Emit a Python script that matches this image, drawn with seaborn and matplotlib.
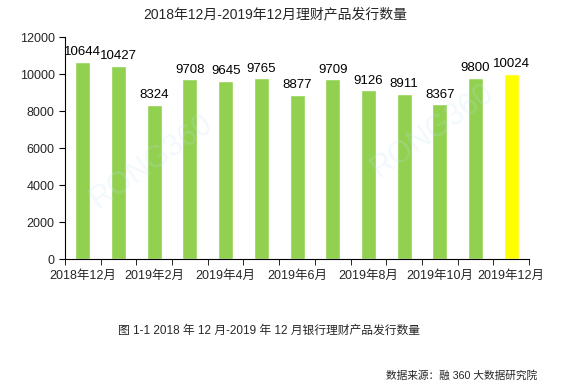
import matplotlib
matplotlib.use("Agg")
import matplotlib.pyplot as plt
import seaborn as sns
import pandas as pd
import numpy as np

months = ["2018年12月", "2019年1月", "2019年2月", "2019年3月", "2019年4月",
          "2019年5月", "2019年6月", "2019年7月", "2019年8月", "2019年9月",
          "2019年10月", "2019年11月", "2019年12月"]
counts = [10644, 10427, 8324, 9708, 9645, 9765, 8877, 9709, 9126, 8911, 8367, 9800, 10024]
bar_colors = ["#92D050"] * 12 + ["#FFFF00"]

sns.set_style("ticks")
plt.rcParams["font.family"] = ["Liberation Sans", "Noto Sans CJK SC", "DejaVu Sans"]

df = pd.DataFrame({"month": months, "count": counts})

fig = plt.figure(figsize=(5.61, 3.84), dpi=100)
ax = fig.add_axes([0.1159, 0.3255, 0.8271, 0.578])

sns.barplot(data=df, x="month", y="count", hue="month", palette=bar_colors,
            width=0.42, legend=False, ax=ax, saturation=1)

for i, v in enumerate(counts):
    ax.text(i, v + 200, str(v), ha="center", va="bottom", fontsize=9.5, color="black")

ax.set_ylim(0, 12000)
ax.set_xlim(-0.5, len(months) - 0.5)
ax.set_yticks(range(0, 12001, 2000))
ax.set_xticks(range(0, len(months), 2))
ax.set_xticklabels(months[::2])
ax.set_xticks(np.arange(-0.5, len(months), 1), minor=True)
ax.tick_params(axis="x", which="major", length=0, labelsize=9, pad=8)
ax.tick_params(axis="x", which="minor", length=4, direction="out", color="black")
ax.tick_params(axis="y", length=4, labelsize=9, color="black")
ax.set_xlabel("")
ax.set_ylabel("")
sns.despine(ax=ax)
for s in ["left", "bottom"]:
    ax.spines[s].set_color("black")
    ax.spines[s].set_linewidth(0.8)

# faint watermark
fig.text(0.27, 0.58, "RONG360", fontsize=22, color="#BFE3F5", alpha=0.2,
         rotation=35, ha="center", va="center")
fig.text(0.77, 0.66, "RONG360", fontsize=22, color="#BFE3F5", alpha=0.2,
         rotation=35, ha="center", va="center")

fig.text(0.49, 0.962, "2018年12月-2019年12月理财产品发行数量", ha="center", va="center",
         fontsize=10)
fig.text(0.479, 0.138, "图 1-1 2018 年 12 月-2019 年 12 月银行理财产品发行数量",
         ha="center", va="center", fontsize=8.5)
fig.text(0.957, 0.023, "数据来源：融 360 大数据研究院", ha="right", va="center", fontsize=7.7)

fig.savefig("out.png", dpi=100)
